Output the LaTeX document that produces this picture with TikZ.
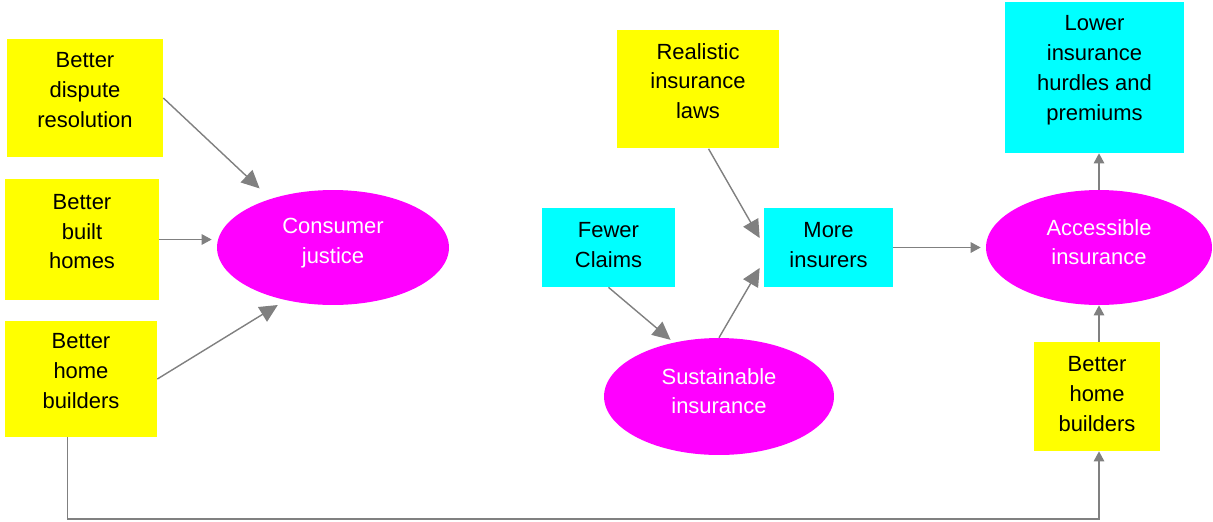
\documentclass[tikz,border=0pt]{standalone}
\usepackage{fontspec}
\setmainfont{Liberation Sans}
\usepackage{tikz}
\usepackage{xcolor}
\usetikzlibrary{arrows.meta,shapes.geometric}

\definecolor{noteyellow}{RGB}{255,255,0}
\definecolor{notecyan}{RGB}{0,255,255}
\definecolor{ovalmagenta}{RGB}{255,0,255}
\definecolor{linkgray}{RGB}{128,128,128}

\tikzset{
  note/.style={rectangle, inner sep=0pt, align=center,
    font=\fontsize{12.5}{17}\selectfont},
  yellownote/.style={note, fill=noteyellow, text depth=0.32cm},
  cyannote/.style={note, fill=notecyan, text depth=0.1cm},
  oval/.style={ellipse, fill=ovalmagenta, text=white, inner sep=0pt,
    align=center, font=\fontsize{12.5}{17}\selectfont, text depth=0.22cm},
  biglink/.style={draw=linkgray, line width=0.8pt,
    -{Triangle[length=0.36cm,width=0.34cm]}},
  smalllink/.style={draw=linkgray, line width=0.8pt,
    -{Triangle[length=0.2cm,width=0.21cm]}}
}

\begin{document}
\begin{tikzpicture}[x=0.02cm,y=-0.02cm]
  \useasboundingbox (0,0) rectangle (1213,521);

  % left column
  \node[yellownote, minimum width=3.12cm, minimum height=2.36cm] (dispute) at (85,98) {Better\\dispute\\resolution};
  \node[yellownote, minimum width=3.08cm, minimum height=2.44cm] (built) at (82,239.5) {Better\\built\\homes};
  \node[yellownote, minimum width=3.04cm, minimum height=2.32cm] (builders) at (81,379) {Better\\home\\builders};
  \node[oval, minimum width=4.64cm, minimum height=2.30cm, text depth=0.25cm] (justice) at (333,247.5) {Consumer\\justice};

  % middle
  \node[yellownote, minimum width=3.26cm, minimum height=2.38cm] (laws) at (698,89) {Realistic\\insurance\\laws};
  \node[cyannote, minimum width=2.66cm, minimum height=1.58cm] (claims) at (608.5,247.5) {Fewer\\Claims};
  \node[cyannote, minimum width=2.58cm, minimum height=1.58cm] (insurers) at (828.5,247.5) {More\\insurers};
  \node[oval, minimum width=4.60cm, minimum height=2.34cm] (sustain) at (719,396.5) {Sustainable\\insurance};

  % right column
  \node[oval, minimum width=4.52cm, minimum height=2.30cm] (access) at (1099,247.5) {Accessible\\insurance};
  \node[cyannote, minimum width=3.58cm, minimum height=3.02cm, text depth=0.38cm] (lower) at (1094.5,77.5) {Lower\\insurance\\hurdles and\\premiums};
  \node[yellownote, minimum width=2.52cm, minimum height=2.18cm, text depth=0.1cm] (builders2) at (1097,396.5) {Better\\home\\builders};

  \coordinate (low) at (0,519);

  \draw[biglink, shorten >=0.3cm] (dispute.east) -- (justice.142);
  \draw[smalllink, shorten >=0.1cm] (built.east) -- (built.east -| justice.west);
  \draw[biglink, shorten >=0.18cm] (builders.east) -- (justice.228);
  \draw[biglink] (laws.-80) -- ([shift={(-4,-9.5)}]insurers.west);
  \draw[biglink, shorten >=0.08cm] (claims.south) -- (sustain.130);
  \draw[biglink] (sustain.north) -- ([shift={(-4,20.5)}]insurers.west);
  \draw[smalllink, shorten >=0.1cm] (insurers.east) -- (access.west);
  \draw[smalllink] (access.north) -- (access.north |- lower.south);
  \draw[smalllink] (access.south |- builders2.north) -- (access.south);
  \draw[smalllink] (builders.-103) -- (builders.-103 |- low) -| (access.south |- builders2.south);
\end{tikzpicture}
\end{document}
